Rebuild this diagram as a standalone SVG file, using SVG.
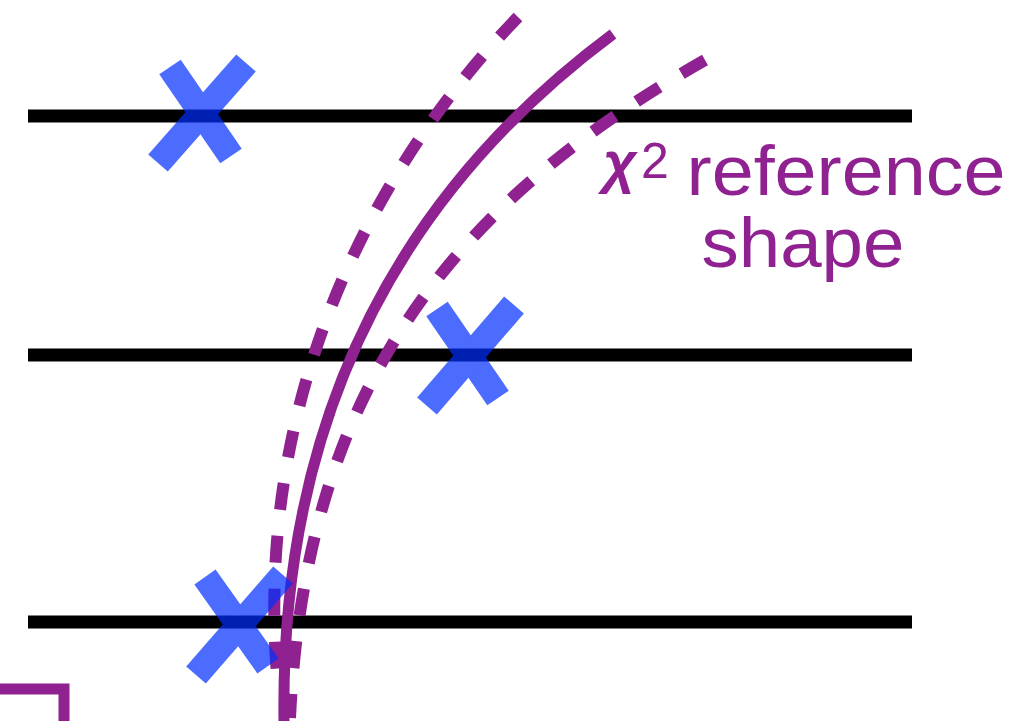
<svg xmlns="http://www.w3.org/2000/svg" width="1018" height="721" viewBox="0 0 1018 721">
  <style>
    .hline { stroke: #000; stroke-width: 13; fill: none; }
    .solid { stroke: #8f2290; stroke-width: 11; fill: none; }
    .dashed { stroke: #8f2290; stroke-width: 12; fill: none; stroke-dasharray: 27 26; }
    .cross { opacity: 0.7; }
    .cross line { stroke: #002eff; stroke-width: 26; stroke-linecap: butt; }
    .label { fill: #8f2290; font-family: "Liberation Sans", Arial, sans-serif; }
  </style>
  <rect width="1018" height="721" fill="#fff"/>

  <g id="levels">
    <line class="hline" x1="28" y1="116" x2="912" y2="116"/>
    <line class="hline" x1="28" y1="355" x2="912" y2="355"/>
    <line class="hline" x1="28" y1="622" x2="912" y2="622"/>
  </g>

  <g id="connectors">
    <path class="solid" d="M613,34 C390,200 280,430 284,721"/>
    <path class="dashed" d="M518,17 C370,170 255,400 277,675"/>
    <path class="dashed" d="M705,60 C440,210 305,400 290,718"/>
    <path class="solid" stroke-width="12" stroke-linejoin="miter" d="M0,689 H64 V721"/>
  </g>

  <g id="label-chi2">
    <text class="label" x="603" y="182" font-family="'DejaVu Serif', serif" font-style="italic" font-weight="bold" font-size="58">χ</text>
    <text class="label" x="641" y="178" font-size="50">2</text>
    <text class="label" x="686.5" y="195" font-size="70" textLength="319" lengthAdjust="spacingAndGlyphs">reference</text>
    <text class="label" x="701.5" y="266.5" font-size="70" textLength="203" lengthAdjust="spacingAndGlyphs">shape</text>
  </g>

  <g id="cross1" class="cross">
    <line x1="170" y1="67" x2="231" y2="156"/>
    <line x1="246" y1="63" x2="158" y2="163"/>
  </g>
  <g id="cross2" class="cross">
    <line x1="437" y1="309" x2="498" y2="398"/>
    <line x1="514" y1="305" x2="427" y2="406"/>
  </g>
  <g id="cross3" class="cross">
    <line x1="205" y1="577" x2="268" y2="666"/>
    <line x1="283" y1="575" x2="196" y2="675"/>
  </g>
</svg>
